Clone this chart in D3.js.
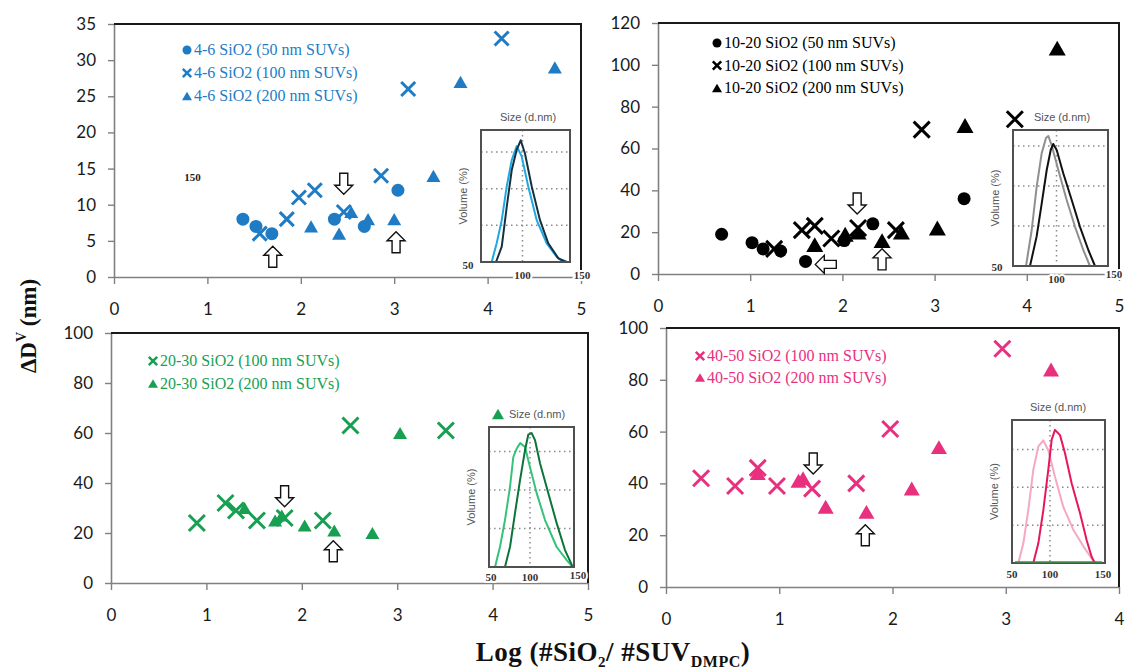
<!DOCTYPE html>
<html>
<head>
<meta charset="utf-8">
<script src="https://cdn.jsdelivr.net/npm/d3@7"></script>
<style>
  body { margin: 0; background: #fff; }
  svg { display: block; }
</style>
</head>
<body>
<div id="chart"></div>
<script>
// ticks
const xTicks5 = [0, 1, 2, 3, 4, 5];
const xTicks4 = [0, 1, 2, 3, 4];
const yTicks35 = [0, 5, 10, 15, 20, 25, 30, 35];
const yTicks120 = [0, 20, 40, 60, 80, 100, 120];
const yTicks100 = [0, 20, 40, 60, 80, 100];
const sizeTicks = [50, 100, 150];
const volGrid = [5, 10, 15];

// 4-6 SiO2  [log ratio, dDv]
const s46_50 = [[1.38, 8], [1.52, 7], [1.69, 6], [2.36, 8], [2.68, 7], [3.04, 12]];
const s46_100 = [[1.56, 6], [1.85, 8], [1.98, 11], [2.15, 12], [2.46, 9], [2.86, 14], [3.15, 26], [4.15, 33]];
const s46_200 = [[2.11, 7], [2.41, 6], [2.54, 9], [2.72, 8], [3.0, 8], [3.42, 14], [3.71, 27], [4.72, 29]];
const arrows46 = [[1.70, 2.8, 'up'], [2.46, 12.9, 'down'], [3.02, 4.8, 'up']];

// 10-20 SiO2
const s1020_50 = [[0.69, 19], [1.02, 15], [1.14, 12], [1.33, 11], [1.60, 6], [2.02, 16], [2.33, 24], [3.32, 36]];
const s1020_100 = [[1.26, 12], [1.56, 21], [1.70, 23], [1.88, 17], [2.17, 22], [2.58, 21], [2.86, 69], [3.87, 74]];
const s1020_200 = [[1.70, 14], [2.03, 19], [2.17, 20], [2.43, 16], [2.64, 20], [3.03, 22], [3.33, 71], [4.33, 108]];
const arrows1020 = [[2.16, 33.7, 'down'], [1.82, 4.6, 'left'], [2.43, 7, 'up']];

// 20-30 SiO2
const s2030_100 = [[0.90, 24], [1.20, 32], [1.31, 29], [1.53, 25], [1.82, 26], [2.22, 25], [2.51, 63], [3.51, 61]];
const s2030_200 = [[1.40, 30], [1.72, 25], [1.79, 27], [2.03, 23], [2.34, 21], [2.74, 20], [3.03, 60]];
const arrows2030 = [[1.82, 34.7, 'down'], [2.33, 12.7, 'up']];

// 40-50 SiO2
const s4050_100 = [[0.31, 42], [0.61, 39], [0.81, 46], [0.98, 39], [1.29, 38], [1.68, 40], [1.98, 61], [2.97, 92]];
const s4050_200 = [[0.81, 44], [1.17, 41], [1.21, 42], [1.41, 31], [1.77, 29], [2.17, 38], [2.41, 54], [3.40, 84]];
const arrows4050 = [[1.30, 47.7, 'down'], [1.76, 20, 'up']];

// inset size distributions [size d.nm, volume %]
const dist46a = [[50, 0], [62, 0], [67.6, 2.55], [73.3, 5.7], [78.9, 10.3], [84.5, 13.9], [90.1, 15.8], [95.7, 14.4], [103.1, 10.3], [112.6, 5.7], [123.8, 2.55], [135.1, 0.7], [142.5, 0], [150, 0]];
const dist46b = [[50, 0], [66.9, 0], [73.3, 2.1], [78.9, 7.5], [84.5, 12.5], [90.1, 15.3], [94.6, 16.6], [99.4, 14.8], [107, 10.3], [116.3, 5.7], [125.6, 2.55], [136.9, 0.5], [146.3, 0], [150, 0]];
const dist1020a = [[50, 0], [63.7, 0], [69.7, 4.5], [74.9, 9.9], [80.2, 14.1], [84.7, 16], [87.2, 16.25], [90.7, 15.1], [97.7, 12], [106.5, 8.25], [115.3, 4.9], [124, 2], [131, 0], [150, 0]];
const dist1020b = [[50, 0], [67.9, 0], [74.9, 3.7], [80.2, 7.8], [85.5, 12], [89.7, 14.5], [92.4, 15.25], [96, 14.5], [102.9, 11.6], [111.8, 8.25], [120.5, 4.9], [129.3, 2], [136.3, 0], [150, 0]];
const dist2030a = [[50, 0], [57.1, 0], [62.9, 2.6], [68.8, 6.1], [74.7, 10.4], [78.6, 14.3], [82.6, 15.4], [86.7, 16.1], [92.4, 15.6], [98.2, 13.0], [106.1, 9.6], [115.9, 6.1], [129.6, 2.6], [141.4, 0.9], [148.5, 0], [150, 0]];
const dist2030b = [[50, 0], [68.8, 0], [74.7, 2.6], [80.6, 7.0], [86.5, 11.3], [92.4, 15.2], [96.2, 17.2], [100.2, 17.4], [104.1, 16.5], [110, 13.5], [119.8, 9.6], [129.6, 5.7], [139.4, 2.2], [147.3, 0.3], [149, 0], [150, 0]];
const dist4050a = [[50, 0], [56.8, 0], [62.2, 2.6], [67.5, 7.0], [72.9, 12.3], [78.3, 15.4], [83.7, 16.2], [89, 14.9], [96.2, 11.4], [105.2, 7.4], [115.9, 4.4], [126.7, 2.2], [135.7, 0.6], [139.2, 0], [150, 0]];
const dist4050b = [[50, 0], [72.9, 0], [78.3, 2.6], [83.7, 7.0], [89, 12.3], [92.7, 16.3], [96.2, 17.6], [101.6, 16.9], [107, 14.5], [114.2, 10.5], [123.1, 6.6], [130.3, 3.0], [135.7, 0.8], [139.2, 0], [150, 0]];

// legend labels
const leg46 = ['4-6 SiO2 (50 nm SUVs)', '4-6 SiO2 (100 nm SUVs)', '4-6 SiO2 (200 nm SUVs)'];
const leg1020 = ['10-20 SiO2 (50 nm SUVs)', '10-20 SiO2 (100 nm SUVs)', '10-20 SiO2 (200 nm SUVs)'];
const leg2030 = ['20-30 SiO2 (100 nm SUVs)', '20-30 SiO2 (200 nm SUVs)'];
const leg4050 = ['40-50 SiO2 (100 nm SUVs)', '40-50 SiO2 (200 nm SUVs)'];

// panel layout
const panels = [
  { left: 114, right: 581, top: 24, bottom: 277, xMax: 5, yMax: 35, xTicks: xTicks5, yTicks: yTicks35,
    color: '#1f7cc4', sz: { r: 6.5, c: 7, t: 14 },
    series: [['circle', s46_50, leg46[0]], ['cross', s46_100, leg46[1]], ['tri', s46_200, leg46[2]]],
    arrows: arrows46, legend: { x: 187, y: 50, dy: 23 },
    note: { x: 0.84, y: 13.8, text: '150' },
    inset: { left: 481, right: 570, top: 130, bottom: 262, yMax: 18, colors: ['#1ea8e2', '#16303f'],
      dists: [dist46a, dist46b], tickOff: [[-13, 3], [-3, 13], [12, 13]], sizeDx: 2.5 } },
  { left: 658, right: 1119, top: 23, bottom: 274, xMax: 5, yMax: 120, xTicks: xTicks5, yTicks: yTicks120,
    color: '#000', sz: { r: 6.5, c: 8, t: 17 },
    series: [['circle', s1020_50, leg1020[0]], ['cross', s1020_100, leg1020[1]], ['tri', s1020_200, leg1020[2]]],
    arrows: arrows1020, legend: { x: 717, y: 43, dy: 22.5 },
    inset: { left: 1013, right: 1108, top: 130, bottom: 266, yMax: 17, colors: ['#8f8f8f', '#111'],
      dists: [dist1020a, dist1020b], tickOff: [[-16, 1], [-4, 13], [6, 8]], sizeDx: 1.5 } },
  { left: 111, right: 588, top: 333, bottom: 583, xMax: 5, yMax: 100, xTicks: xTicks5, yTicks: yTicks100,
    color: '#17a052', sz: { r: 6, c: 8, t: 14 },
    series: [['cross', s2030_100, leg2030[0]], ['tri', s2030_200, leg2030[1]]],
    arrows: arrows2030, legend: { x: 153, y: 361, dy: 22.5 },
    inset: { left: 489, right: 574, top: 427, bottom: 567, yMax: 18.2, colors: ['#35c27a', '#0c7439'],
      dists: [dist2030a, dist2030b], tickOff: [[2, 10], [-1.5, 10], [4, 8]], sizeDx: 5.5, sizeMark: true } },
  { left: 666, right: 1119, top: 328, bottom: 587, xMax: 4, yMax: 100, xTicks: xTicks4, yTicks: yTicks100,
    color: '#e8307f', sz: { r: 6, c: 8, t: 16 },
    series: [['cross', s4050_100, leg4050[0]], ['tri', s4050_200, leg4050[1]]],
    arrows: arrows4050, legend: { x: 700, y: 356, dy: 21.5 },
    inset: { left: 1012, right: 1105, top: 420, bottom: 563, yMax: 18.9, colors: ['#f6a8c2', '#e6175c'],
      dists: [dist4050a, dist4050b], tickOff: [[0, 11], [-8.5, 11], [-2, 11]], sizeDx: -0.5, baseColor: '#3d8f45' } }
];

const svg = d3.select('#chart').append('svg')
  .attr('width', 1127).attr('height', 669);

function triPath(s) {
  const h = s * 0.87;
  return `M0,${-h / 2}L${s / 2},${h / 2}L${-s / 2},${h / 2}Z`;
}
function crossPath(c) {
  return `M${-c},${-c}L${c},${c}M${-c},${c}L${c},${-c}`;
}
function drawMarker(sel, type, color, sz) {
  if (type === 'circle') {
    sel.append('circle').attr('r', sz.r).attr('fill', color);
  } else if (type === 'cross') {
    sel.append('path').attr('d', crossPath(sz.c)).attr('stroke', color)
      .attr('stroke-width', 3).attr('fill', 'none');
  } else {
    sel.append('path').attr('d', triPath(sz.t)).attr('fill', color);
  }
}
// hollow block arrow pointing up, rotated for the others
const arrowD = 'M0,-10.5L9,-1.5L4,-1.5L4,10.5L-4,10.5L-4,-1.5L-9,-1.5Z';
const arrowRot = { up: 0, down: 180, left: -90 };

panels.forEach(function(p) {
  const x = d3.scaleLinear().domain([0, p.xMax]).range([p.left, p.right]);
  const y = d3.scaleLinear().domain([0, p.yMax]).range([p.bottom, p.top]);
  const g = svg.append('g');

  // axes
  const xa = g.append('g').attr('transform', `translate(0,${p.bottom})`)
    .call(d3.axisBottom(x).tickValues(p.xTicks).tickSize(7).tickSizeOuter(0).tickPadding(19).tickFormat(d3.format('d')));
  const ya = g.append('g').attr('transform', `translate(${p.left},0)`)
    .call(d3.axisLeft(y).tickValues(p.yTicks).tickSize(6).tickSizeOuter(0).tickPadding(12).tickFormat(d3.format('d')));
  [xa, ya].forEach(function(a) {
    a.select('.domain').attr('stroke', '#808080').attr('stroke-width', 1.6);
    a.selectAll('.tick line').attr('stroke', '#808080').attr('stroke-width', 1.4);
    a.selectAll('.tick text').attr('fill', '#1a1a1a').style('font-family', 'Lato, "Open Sans", sans-serif').style('font-size', '17px');
  });
  // frame top / right
  g.append('path').attr('d', `M${p.left},${p.top}H${p.right}V${p.bottom}`)
    .attr('fill', 'none').attr('stroke', '#1a1a1a').attr('stroke-width', 2);

  // inset
  const ins = p.inset;
  const sx = d3.scaleLinear().domain([50, 150]).range([ins.left, ins.right]);
  const sy = d3.scaleLinear().domain([0, ins.yMax]).range([ins.bottom, ins.top]);
  const ig = g.append('g');
  ig.append('rect').attr('x', ins.left).attr('y', ins.top)
    .attr('width', ins.right - ins.left).attr('height', ins.bottom - ins.top).attr('fill', '#fff');
  ig.selectAll('.hgrid').data(volGrid).enter().append('line')
    .attr('x1', ins.left).attr('x2', ins.right).attr('y1', d => sy(d)).attr('y2', d => sy(d))
    .attr('stroke', '#8a8a8a').attr('stroke-width', 1.5).attr('stroke-dasharray', '1.5,3.5');
  ig.append('line')
    .attr('x1', sx(100) + ins.tickOff[1][0]).attr('x2', sx(100) + ins.tickOff[1][0])
    .attr('y1', ins.top).attr('y2', ins.bottom)
    .attr('stroke', '#8a8a8a').attr('stroke-width', 1.5).attr('stroke-dasharray', '1.5,3.5');
  const line = d3.line().x(d => sx(d[0])).y(d => sy(d[1])).curve(d3.curveLinear);
  ins.dists.forEach(function(dist, i) {
    ig.append('path').attr('d', line(dist)).attr('fill', 'none')
      .attr('stroke', ins.colors[i]).attr('stroke-width', 2).attr('stroke-linejoin', 'round');
  });
  ig.append('rect').attr('x', ins.left).attr('y', ins.top)
    .attr('width', ins.right - ins.left).attr('height', ins.bottom - ins.top)
    .attr('fill', 'none').attr('stroke', '#505050').attr('stroke-width', 2);
  if (ins.baseColor) {
    ig.append('line').attr('x1', ins.left + 3).attr('x2', ins.right - 3)
      .attr('y1', ins.bottom - 1).attr('y2', ins.bottom - 1)
      .attr('stroke', ins.baseColor).attr('stroke-width', 1.5);
  }
  ig.selectAll('.stick').data(sizeTicks).enter().append('text')
    .attr('x', (d, i) => sx(d) + ins.tickOff[i][0])
    .attr('y', (d, i) => ins.bottom + ins.tickOff[i][1])
    .attr('dy', '0.35em').attr('text-anchor', 'middle')
    .style('font-family', '"Liberation Serif", serif').style('font-size', '11px')
    .style('font-weight', 'bold').attr('fill', '#333')
    .attr('stroke', '#fff').attr('stroke-width', 4).style('paint-order', 'stroke')
    .text(d => d);
  const cx = (ins.left + ins.right) / 2 + ins.sizeDx;
  ig.append('text').attr('x', cx).attr('y', ins.top - 13).attr('dy', '0.35em')
    .attr('text-anchor', 'middle').attr('fill', '#555')
    .style('font-family', '"Liberation Sans", Arial, sans-serif').style('font-size', '11px')
    .text('Size (d.nm)');
  if (ins.sizeMark) {
    ig.append('path').attr('transform', `translate(${ins.left + 9},${ins.top - 13})`)
      .attr('d', triPath(12)).attr('fill', p.color);
  }
  ig.append('text')
    .attr('transform', `translate(${ins.left - 18},${(ins.top + ins.bottom) / 2}) rotate(-90)`)
    .attr('dy', '0.35em').attr('text-anchor', 'middle').attr('fill', '#555')
    .style('font-family', '"Liberation Sans", Arial, sans-serif').style('font-size', '11px')
    .text('Volume (%)');

  // data points
  p.series.forEach(function(s) {
    g.append('g').selectAll('g').data(s[1]).enter().append('g')
      .attr('transform', d => `translate(${x(d[0])},${y(d[1])})`)
      .each(function() { drawMarker(d3.select(this), s[0], p.color, p.sz); });
  });

  // arrows
  g.append('g').selectAll('path').data(p.arrows).enter().append('path')
    .attr('transform', d => `translate(${x(d[0])},${y(d[1])}) rotate(${arrowRot[d[2]]})`)
    .attr('d', arrowD).attr('fill', '#fff').attr('stroke', '#111').attr('stroke-width', 1.4);

  if (p.note) {
    g.append('text').attr('x', x(p.note.x)).attr('y', y(p.note.y)).attr('dy', '0.35em')
      .attr('text-anchor', 'middle').attr('fill', '#222')
      .style('font-family', '"Liberation Serif", serif').style('font-size', '11px').style('font-weight', 'bold')
      .text(p.note.text);
  }

  // legend
  const lg = g.append('g');
  p.series.forEach(function(s, i) {
    const row = lg.append('g').attr('transform', `translate(${p.legend.x},${p.legend.y + i * p.legend.dy})`);
    drawMarker(row, s[0], p.color, { r: 4.5, c: 4.2, t: 10 });
    row.select('path').attr('stroke-width', 2.5);
    row.append('text').attr('x', 7).attr('dy', '0.33em').attr('fill', p.color)
      .style('font-family', '"Liberation Serif", "Times New Roman", serif').style('font-size', '16px')
      .text(s[2]);
  });
});

// axis titles
const yt = svg.append('text')
  .attr('transform', 'translate(36,326) rotate(-90)')
  .attr('text-anchor', 'middle')
  .style('font-family', '"Liberation Serif", "Times New Roman", serif')
  .style('font-size', '23px').style('font-weight', 'bold').attr('fill', '#111');
yt.append('tspan').text('\u0394D');
yt.append('tspan').attr('dy', -10).style('font-size', '14px').text('V');
yt.append('tspan').attr('dy', 10).text(' (nm)');

const xt = svg.append('text')
  .attr('x', 613).attr('y', 661)
  .attr('text-anchor', 'middle')
  .style('font-family', '"Liberation Serif", "Times New Roman", serif')
  .style('font-size', '27px').style('font-weight', 'bold').style('letter-spacing', '0.5px').attr('fill', '#111');
xt.append('tspan').text('Log (#SiO');
xt.append('tspan').attr('dy', 6).style('font-size', '15px').text('2');
xt.append('tspan').attr('dy', -6).text('/ #SUV');
xt.append('tspan').attr('dy', 6).style('font-size', '16px').text('DMPC');
xt.append('tspan').attr('dy', -6).text(')');
</script>
</body>
</html>
